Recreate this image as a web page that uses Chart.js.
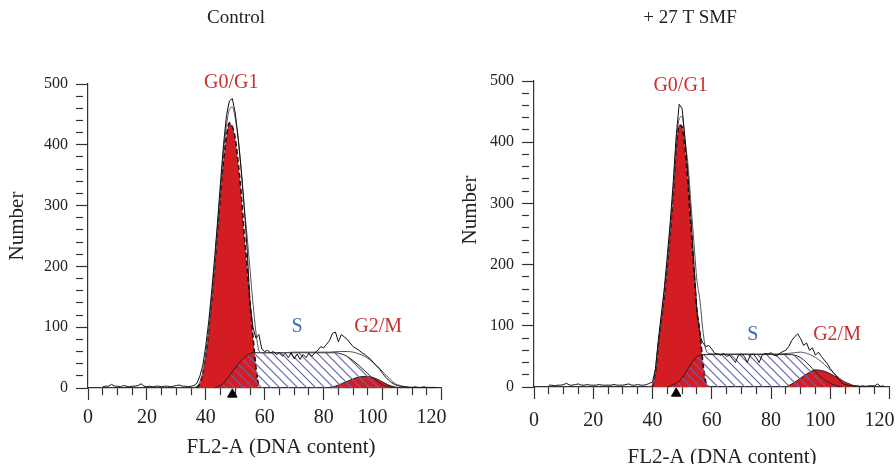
<!DOCTYPE html>
<html>
<head>
<meta charset="utf-8">
<script src="https://cdn.jsdelivr.net/npm/chart.js"></script>
<style>
  html, body { margin: 0; padding: 0; background: #fff; }
  #wrap { position: relative; width: 896px; height: 464px; overflow: hidden; }
  .panel { position: absolute; top: 0; width: 448px; height: 464px; }
  #panelCtl { left: 0; }
  #panelSmf { left: 448px; }
</style>
</head>
<body>
<div id="wrap">
  <div class="panel" id="panelCtl"><canvas id="chartCtl" width="448" height="464"></canvas></div>
  <div class="panel" id="panelSmf"><canvas id="chartSmf" width="448" height="464"></canvas></div>
</div>
<script>
// raw histogram counts, one per channel, first channel = rawStart
const rawStart = 5;
const ctlRaw = [
  2,3,3,6,3,3,2,4,3,2,3,3,4,7,3,2,3,2,3,3,2,3,3,2,3,4,5,3,3,2,3,4,
  8,20,38,70,110,160,215,275,340,400,448,472,476,452,410,360,300,230,140,100,82,88,
  64,60,62,58,60,55,58,52,57,50,58,48,56,47,55,50,57,52,58,62,68,66,72,78,90,92,76,88,84,80,74,68,65,62,58,55,51,47,41,36,31,24,18,13,9,6,4,3,2,
  2,1,1,2,1,1,2,1,1,1,1
];
const smfRaw = [
  3,3,2,3,3,4,6,3,3,4,5,3,3,4,3,3,3,4,3,3,3,3,4,3,3,3,4,5,3,3,4,3,3,4,6,
  8,30,78,120,162,215,270,335,410,462,455,405,345,275,200,125,84,72,66,
  68,62,55,54,52,55,50,52,46,40,52,54,50,40,52,54,48,40,52,55,54,56,52,51,55,58,60,66,76,82,87,79,68,72,60,64,52,57,50,44,38,30,24,18,12,6,4,3,2,
  2,2,1,2,1,2,2,2,5,1,2
];

// fitted model: total envelope
const ctlFitX = [36,37,38,39,40,41,42,43,44,45,46,47,48,49,50,51,52,53,54,55,56,57,58,59,62,66,70,74,78,82,85,88,90,92,94,96,98,100,102,104,106,108,110];
const ctlFitY = [1,3,10,27,56,96,147,203,265,328,388,432,458,462,443,409,358,300,250,195,140,92,62,58,58,58,59,59,59,59,60,60,59,56,52,45,37,27,17,8,4,2,1];
const smfFitX = [39,40,41,42,43,44,45,46,47,48,49,50,51,52,53,54,55,56,57,58,59,62,66,70,74,78,82,86,88,90,92,94,96,98,100,102,104,106,108,110];
const smfFitY = [1,3,27,72,113,155,205,260,322,398,438,442,402,362,298,235,174,142,93,61,55,54,54,54,54,54,54,55,56,57,55,51,45,37,28,19,11,5,2,1];

// G0/G1 component
const ctlG1X = [37,38,39,40,41,42,43,44,45,46,47,48,49,50,51,52,53,54,55,56,57,58];
const ctlG1Y = [0,8,25,55,95,145,200,260,320,375,415,436,430,410,370,320,255,200,140,85,35,0];
const smfG1X = [40,41,42,43,44,45,46,47,48,49,50,51,52,53,54,55,56,57,58,59];
const smfG1Y = [0,25,70,110,150,200,255,315,390,428,425,390,330,260,190,125,90,40,8,0];

// S component
const ctlSX = [43,44,46,48,50,52,54,56,58,62,70,78,84,86,88,90,92,94,96,98,100,102,104];
const ctlSY = [0,2,8,20,33,45,54,58,58,58,58,58,58,56,52,45,37,28,19,12,5,2,0];
const smfSX = [45,46,48,50,52,54,56,58,62,70,80,86,88,90,92,94,96,98,100,102,104];
const smfSY = [0,2,6,15,30,45,52,53,53,53,53,53,52,48,40,30,20,12,6,2,0];

// G2/M component
const ctlG2X = [80,82,84,86,88,90,92,94,96,98,100,102,104,106];
const ctlG2Y = [0,1,3,7,11,15,18,19,18,15,10,5,2,0];
const smfG2X = [85,87,89,91,93,95,97,99,101,103,105,107,109];
const smfG2Y = [0,5,11,18,24,28,27,24,19,13,8,4,0];

// G0/G1 peak marker channel
const ctlMarker = 49;
const smfMarker = 48;

const phaseNames = ['G0/G1', 'S', 'G2/M'];
const ctlPhaseX = [48.6, 71, 98.5];
const ctlPhaseY = [502, 100, 100];
const smfPhaseX = [49.5, 73.9, 102.3];
const smfPhaseY = [493, 85, 85];

const RED = '#d41c23';
const SERIF = '"Liberation Serif", "Times New Roman", serif';

function pts(xs, ys) {
    return xs.map((x, i) => ({ x: x, y: ys[i] }));
}

function rawPts(arr) {
    return arr.map((y, i) => ({ x: rawStart + i, y: y }));
}

function hatch(color) {
    let c = document.createElement('canvas');
    c.width = 9;
    c.height = 9;
    let g = c.getContext('2d');
    g.strokeStyle = color;
    g.lineWidth = 1.2;
    g.beginPath();
    g.moveTo(-1, -1); g.lineTo(10, 10);
    g.moveTo(-1, 8); g.lineTo(1, 10);
    g.moveTo(8, -1); g.lineTo(10, 1);
    g.stroke();
    return g.createPattern(c, 'repeat');
}

// phase labels, panel title and axis titles
const panelText = {
    id: 'panelText',
    afterDatasetsDraw(chart, args, o) {
        let ctx = chart.ctx;
        let xs = chart.scales.x, ys = chart.scales.y;
        ctx.save();
        ctx.textAlign = 'center';
        ctx.textBaseline = 'middle';
        ctx.font = '20px ' + SERIF;
        phaseNames.forEach((name, i) => {
            ctx.fillStyle = name == 'S' ? '#3d6cb4' : '#c9302f';
            ctx.fillText(name, xs.getPixelForValue(o.phaseX[i]), ys.getPixelForValue(o.phaseY[i]));
        });
        ctx.fillStyle = '#222';
        ctx.font = '19px ' + SERIF;
        ctx.fillText(o.title, o.titlePos[0], o.titlePos[1]);
        ctx.font = '21px ' + SERIF;
        ctx.fillText('FL2-A (DNA content)', o.xTitlePos[0], o.xTitlePos[1]);
        ctx.translate(o.yTitlePos[0], o.yTitlePos[1]);
        ctx.rotate(-Math.PI / 2);
        ctx.fillText('Number', 0, 0);
        ctx.restore();
    }
};

function makeChart(id, d) {
    let ctx = document.getElementById(id);
    return new Chart(ctx, {
        type: 'line',
        data: {
            datasets: [{
                label: 'marker',
                data: [{ x: d.marker, y: -10.5 }],
                showLine: false,
                pointStyle: 'triangle',
                pointRadius: 5.5,
                pointBackgroundColor: '#000',
                pointBorderColor: '#000',
                clip: false,
                order: 0
            }, {
                label: 'raw',
                data: rawPts(d.raw),
                borderColor: '#111',
                borderWidth: 1,
                fill: false,
                order: 1
            }, {
                label: 'fit',
                data: pts(d.fitX, d.fitY),
                borderColor: '#555',
                borderWidth: 1,
                cubicInterpolationMode: 'monotone',
                fill: false,
                order: 2
            }, {
                label: 'S',
                data: pts(d.sX, d.sY),
                borderColor: '#222',
                borderWidth: 1,
                backgroundColor: hatch('#6466ad'),
                cubicInterpolationMode: 'monotone',
                fill: 'origin',
                order: 3
            }, {
                label: 'G2/M',
                data: pts(d.g2X, d.g2Y),
                borderColor: '#222',
                borderWidth: 1,
                backgroundColor: RED,
                cubicInterpolationMode: 'monotone',
                fill: 'origin',
                order: 4
            }, {
                label: 'G0/G1',
                data: pts(d.g1X, d.g1Y),
                borderColor: '#111',
                borderWidth: 1.6,
                borderDash: [5, 3],
                backgroundColor: RED,
                cubicInterpolationMode: 'monotone',
                fill: 'origin',
                order: 5
            }]
        },
        options: {
            responsive: false,
            animation: false,
            elements: { point: { radius: 0 } },
            layout: { padding: { top: d.top, right: d.right, bottom: 0, left: 0 } },
            scales: {
                x: {
                    type: 'linear',
                    min: 0,
                    max: 120,
                    afterFit: (s) => { s.height = d.xHeight; s.paddingLeft = 0; s.paddingRight = 0; },
                    border: { display: true, color: '#333', width: 1.2 },
                    grid: {
                        drawOnChartArea: false,
                        tickLength: 12,
                        tickColor: '#333',
                        tickWidth: 1.2,
                        tickBorderDash: (c) => (c.tick && c.tick.value % 20 !== 0 ? [7, 30] : [])
                    },
                    ticks: {
                        stepSize: 5,
                        autoSkip: false,
                        maxRotation: 0,
                        padding: d.xPad,
                        color: '#222',
                        font: { family: SERIF, size: 20 },
                        // three-digit labels sit a little left of their tick, as in the source plot
                        callback: (v) => (v % 20 !== 0 ? '' : (v >= 100 ? v + '    ' : v))
                    }
                },
                y: {
                    min: 0,
                    max: 500,
                    afterFit: (s) => { s.width = d.yWidth; s.paddingTop = 0; s.paddingBottom = 0; },
                    border: { display: true, color: '#333', width: 1.2 },
                    grid: {
                        drawOnChartArea: false,
                        tickLength: 12,
                        tickColor: '#333',
                        tickWidth: 1.2,
                        tickBorderDash: (c) => (c.tick && c.tick.value % 100 !== 0 ? [7, 30] : [])
                    },
                    ticks: {
                        stepSize: 20,
                        autoSkip: false,
                        padding: 8,
                        color: '#222',
                        font: { family: SERIF, size: 16 },
                        callback: (v) => (v % 100 === 0 ? v : '')
                    }
                }
            },
            plugins: {
                legend: { display: false },
                tooltip: { enabled: false },
                panelText: {
                    title: d.title,
                    titlePos: d.titlePos,
                    xTitlePos: d.xTitlePos,
                    yTitlePos: d.yTitlePos,
                    phaseX: d.phaseX,
                    phaseY: d.phaseY
                }
            }
        },
        plugins: [panelText]
    });
}

makeChart('chartCtl', {
    raw: ctlRaw, fitX: ctlFitX, fitY: ctlFitY,
    g1X: ctlG1X, g1Y: ctlG1Y, sX: ctlSX, sY: ctlSY, g2X: ctlG2X, g2Y: ctlG2Y,
    marker: ctlMarker, phaseX: ctlPhaseX, phaseY: ctlPhaseY,
    title: 'Control', titlePos: [236, 18], xTitlePos: [281, 447], yTitlePos: [17, 226],
    top: 84, right: 6, xHeight: 76, yWidth: 88, xPad: 6
});

makeChart('chartSmf', {
    raw: smfRaw, fitX: smfFitX, fitY: smfFitY,
    g1X: smfG1X, g1Y: smfG1Y, sX: smfSX, sY: smfSY, g2X: smfG2X, g2Y: smfG2Y,
    marker: smfMarker, phaseX: smfPhaseX, phaseY: smfPhaseY,
    title: '+ 27 T SMF', titlePos: [242, 18], xTitlePos: [274, 457], yTitlePos: [22, 210],
    top: 81, right: 3, xHeight: 77, yWidth: 86, xPad: 10
});
</script>
</body>
</html>
